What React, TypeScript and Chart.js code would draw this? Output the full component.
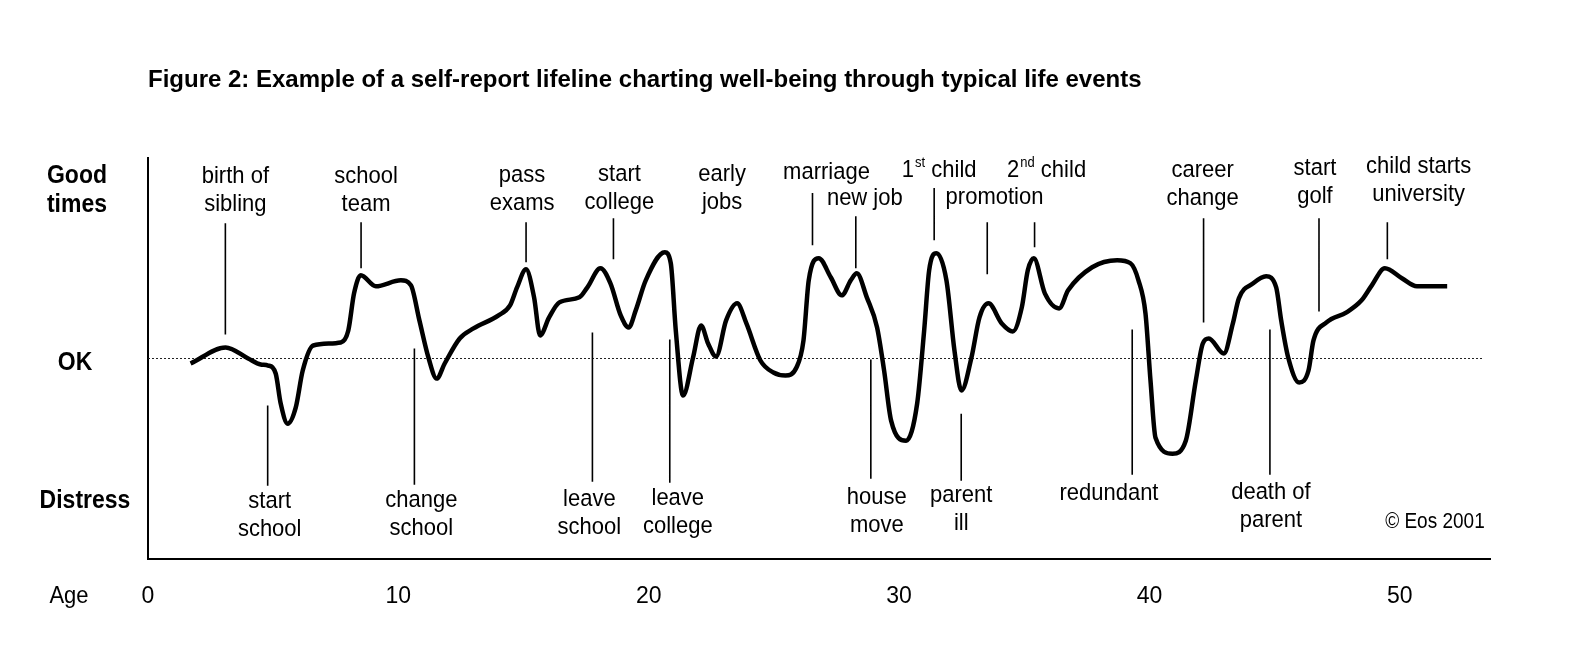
import React, { useEffect, useRef } from "react";
import { Chart, registerables } from "chart.js";

Chart.register(...registerables);

const chartTitle =
  "Figure 2: Example of a self-report lifeline charting well-being through typical life events";

// lifeline: age (years) and well-being level (0 = OK)
const lifeAges = [
  1.7, 3.1, 4.0, 4.5, 4.8, 5.1, 5.3, 5.58, 5.9, 6.18,
  6.6, 7.7, 8.0, 8.23, 8.5, 9.1, 10.1, 10.5, 10.84, 11.2,
  11.53, 11.85, 12.45, 13.0, 14.0, 14.46, 14.74, 15.1, 15.42, 15.66,
  16.02, 16.43, 17.23, 17.55, 18.07, 18.47, 18.88, 19.2, 19.48, 19.88,
  20.64, 20.88, 21.08, 21.37, 21.77, 22.09, 22.37, 22.69, 23.09, 23.53,
  23.9, 24.46, 24.98, 25.46, 25.9, 26.18, 26.39, 26.79, 27.27, 27.71,
  28.07, 28.31, 28.71, 29.12, 29.4, 29.68, 30.28, 30.72, 31.0, 31.2,
  31.49, 31.89, 32.21, 32.49, 32.89, 33.21, 33.57, 34.1, 34.54, 34.9,
  35.14, 35.38, 35.82, 36.39, 36.75, 37.71, 38.71, 39.24, 39.56, 39.84,
  40.04, 40.24, 40.92, 41.45, 41.85, 42.13, 42.37, 42.97, 43.33, 43.57,
  44.14, 44.66, 45.06, 45.26, 45.54, 45.98, 46.35, 46.55, 47.07, 47.87,
  48.47, 48.88, 49.4, 50.08, 50.68, 51.89,
];
const wellBeing = [
  -0.5, 1.1, 0.0, -0.6, -0.7, -1.5, -4.5, -6.5, -4.9, -1.2,
  1.3, 1.6, 2.8, 6.5, 8.3, 7.2, 7.8, 7.3, 3.8, 0.1,
  -2.0, -0.5, 2.0, 3.0, 4.3, 5.3, 7.1, 8.9, 6.1, 2.3,
  4.1, 5.6, 6.1, 7.1, 9.0, 7.5, 4.3, 3.1, 4.8, 7.8,
  10.6, 9.5, 2.8, -3.7, 0.1, 3.3, 1.5, 0.2, 3.8, 5.5,
  3.5, -0.2, -1.4, -1.7, -0.9, 1.8, 7.8, 10.0, 8.1, 6.3,
  7.8, 8.5, 6.1, 3.1, -1.2, -6.2, -8.2, -4.5, 2.8, 8.8,
  10.5, 7.8, 0.8, -3.2, 0.1, 4.1, 5.5, 3.5, 2.7, 5.1,
  8.8, 10.0, 6.5, 5.0, 6.8, 9.1, 9.8, 9.5, 7.8, 4.5,
  -2.2, -7.9, -9.5, -8.2, -2.2, 1.5, 2.0, 0.5, 3.5, 6.0,
  7.5, 8.2, 7.1, 3.8, 0.1, -2.4, -1.2, 1.8, 3.6, 4.6,
  5.8, 7.3, 9.0, 8.0, 7.2, 7.2,
];

const okLevel = 0;
const okLineEnd = 53.3;
const ageTicks = [0, 10, 20, 30, 40, 50];
const ageMin = 0;
const ageMax = 53.6;
const levelMin = -20;
const levelMax = 20;

const moodNames = ["Good\ntimes", "OK", "Distress"];
const moodLevels = [18.2, -0.4, -14.2];
const axisName = "Age";

const eventNames = [
  "birth of\nsibling", "school\nteam", "pass\nexams", "start\ncollege", "early\njobs",
  "marriage", "new job", "1st child", "promotion", "2nd child",
  "career\nchange", "start\ngolf", "child starts\nuniversity",
  "start\nschool", "change\nschool", "leave\nschool", "leave\ncollege", "house\nmove",
  "parent\nill", "redundant", "death of\nparent",
];
const nameAges = [
  3.49, 8.71, 14.94, 18.83, 22.93,
  27.1, 28.63, 31.6, 33.81, 35.89,
  42.12, 46.61, 50.75,
  4.86, 10.92, 17.63, 21.16, 29.11,
  32.48, 38.38, 44.85,
];
const nameLevels = [
  18.2, 18.2, 18.3, 18.4, 18.4,
  18.6, 16.0, 18.8, 16.1, 18.8,
  18.8, 19.0, 19.2,
  -14.2, -14.1, -14.0, -13.9, -13.8,
  -13.6, -13.4, -13.3,
];
const leaderAges = [
  3.09, 8.51, 15.1, 18.59, 0,
  26.54, 28.27, 31.4, 33.52, 35.41,
  42.16, 46.77, 49.5,
  4.78, 10.64, 17.75, 20.84, 28.87,
  32.48, 39.31, 44.81,
];
const leaderFrom = [
  13.5, 13.6, 13.6, 14.0, NaN,
  16.5, 14.2, 17.0, 13.6, 13.6,
  14.0, 14.0, 13.6,
  -4.7, 1.0, 2.6, 1.9, -0.1,
  -5.5, 2.9, 2.9,
];
const leaderTo = [
  2.4, 9.0, 9.6, 9.9, NaN,
  11.3, 9.0, 11.8, 8.4, 11.1,
  3.6, 4.7, 9.9,
  -12.7, -12.6, -12.3, -12.4, -12.0,
  -12.2, -11.6, -11.6,
];

const copyrightNote = "© Eos 2001";
const copyrightAge = 51.4;
const copyrightLevel = -16.3;

const FONT = '"Liberation Sans", Arial, Helvetica, sans-serif';
const STRETCH = 1.12;

function putText(
  ctx: CanvasRenderingContext2D,
  text: string,
  x: number,
  y: number,
  font: string,
  align: CanvasTextAlign = "center",
  stretch: number = STRETCH
) {
  ctx.save();
  ctx.translate(x, y);
  ctx.scale(1, stretch);
  ctx.font = font;
  ctx.textAlign = align;
  ctx.textBaseline = "middle";
  ctx.fillText(text, 0, 0);
  ctx.restore();
}

function putRich(ctx: CanvasRenderingContext2D, text: string, cx: number, cy: number, size: number) {
  const m = /^(\d+)(st|nd|rd|th)(.*)$/.exec(text);
  const font = `${size}px ${FONT}`;
  if (!m) {
    putText(ctx, text, cx, cy, font, "center");
    return;
  }
  const small = `${Math.round(size * 0.6)}px ${FONT}`;
  ctx.font = font;
  const w1 = ctx.measureText(m[1]).width;
  const w3 = ctx.measureText(m[3]).width;
  ctx.font = small;
  const w2 = ctx.measureText(m[2]).width + 1;
  const x0 = cx - (w1 + w2 + w3) / 2;
  putText(ctx, m[1], x0, cy, font, "left");
  putText(ctx, m[2], x0 + w1 + 1, cy - size * 0.33, small, "left");
  putText(ctx, m[3], x0 + w1 + w2, cy, font, "left");
}

const annotate = {
  id: "annotate",
  afterDraw(chart: any) {
    const { ctx, chartArea } = chart;
    const x = chart.scales.x;
    const y = chart.scales.y;
    ctx.save();
    ctx.fillStyle = "#000";

    putText(ctx, chartTitle, chartArea.left, 80, `bold 24px ${FONT}`, "left", 1.0);

    const moodOffsets = [-71, -73, -63];
    moodNames.forEach((name, i) => {
      const py = y.getPixelForValue(moodLevels[i]);
      name.split("\n").forEach((ln, k) => {
        putText(ctx, ln, chartArea.left + moodOffsets[i], py + k * 29, `bold 23px ${FONT}`, "center");
      });
    });

    putText(ctx, axisName, chartArea.left - 79, chartArea.bottom + 37, `22px ${FONT}`, "center");

    eventNames.forEach((name, i) => {
      const cx = x.getPixelForValue(nameAges[i]);
      const cy = y.getPixelForValue(nameLevels[i]);
      name.split("\n").forEach((ln, k) => putRich(ctx, ln, cx, cy + k * 28, 22));
    });

    putText(
      ctx,
      copyrightNote,
      x.getPixelForValue(copyrightAge),
      y.getPixelForValue(copyrightLevel),
      `19px ${FONT}`,
      "center"
    );
    ctx.restore();
  },
};

export default function App() {
  const canvasRef = useRef<HTMLCanvasElement | null>(null);

  useEffect(() => {
    if (!canvasRef.current) return;
    const curve = lifeAges.map((a, i) => ({ x: a, y: wellBeing[i] }));
    const leaders: any[] = [];
    leaderAges.forEach((a, i) => {
      if (isNaN(leaderFrom[i])) return;
      leaders.push({ x: a, y: leaderFrom[i] }, { x: a, y: leaderTo[i] }, { x: a, y: null });
    });

    const chart = new Chart(canvasRef.current, {
      type: "line",
      data: {
        datasets: [
          {
            data: curve,
            borderColor: "#000",
            borderWidth: 4.5,
            pointRadius: 0,
            cubicInterpolationMode: "monotone",
            fill: false,
            order: 0,
          },
          {
            data: [
              { x: ageMin, y: okLevel },
              { x: okLineEnd, y: okLevel },
            ],
            borderColor: "#222",
            borderWidth: 1,
            borderDash: [2, 2],
            pointRadius: 0,
            fill: false,
            order: 2,
          },
          {
            data: leaders,
            borderColor: "#000",
            borderWidth: 1.6,
            pointRadius: 0,
            spanGaps: false,
            tension: 0,
            fill: false,
            order: 1,
          },
        ],
      },
      options: {
        animation: false,
        responsive: true,
        maintainAspectRatio: false,
        layout: { padding: { left: 148, right: 85, top: 158, bottom: 0 } },
        plugins: {
          legend: { display: false },
          tooltip: { enabled: false },
          title: { display: false },
        },
        scales: {
          x: {
            type: "linear",
            min: ageMin,
            max: ageMax,
            grid: { display: false },
            border: { display: true, color: "#000", width: 2 },
            ticks: {
              color: "#000",
              font: { family: FONT, size: 23 },
              padding: 16,
              maxRotation: 0,
            },
            afterBuildTicks: (s: any) => {
              s.ticks = ageTicks.map((v) => ({ value: v }));
            },
            afterFit: (s: any) => {
              s.height = 113;
            },
          },
          y: {
            type: "linear",
            min: levelMin,
            max: levelMax,
            grid: { display: false },
            ticks: { display: false },
            border: { display: true, color: "#000", width: 2 },
            afterFit: (s: any) => {
              s.width = 0;
            },
          },
        },
      } as any,
      plugins: [annotate],
    });
    return () => chart.destroy();
  }, []);

  return (
    <div
      style={{
        position: "fixed",
        left: 0,
        top: 0,
        width: 1575,
        height: 672,
        background: "#fff",
      }}
    >
      <canvas ref={canvasRef} />
    </div>
  );
}
